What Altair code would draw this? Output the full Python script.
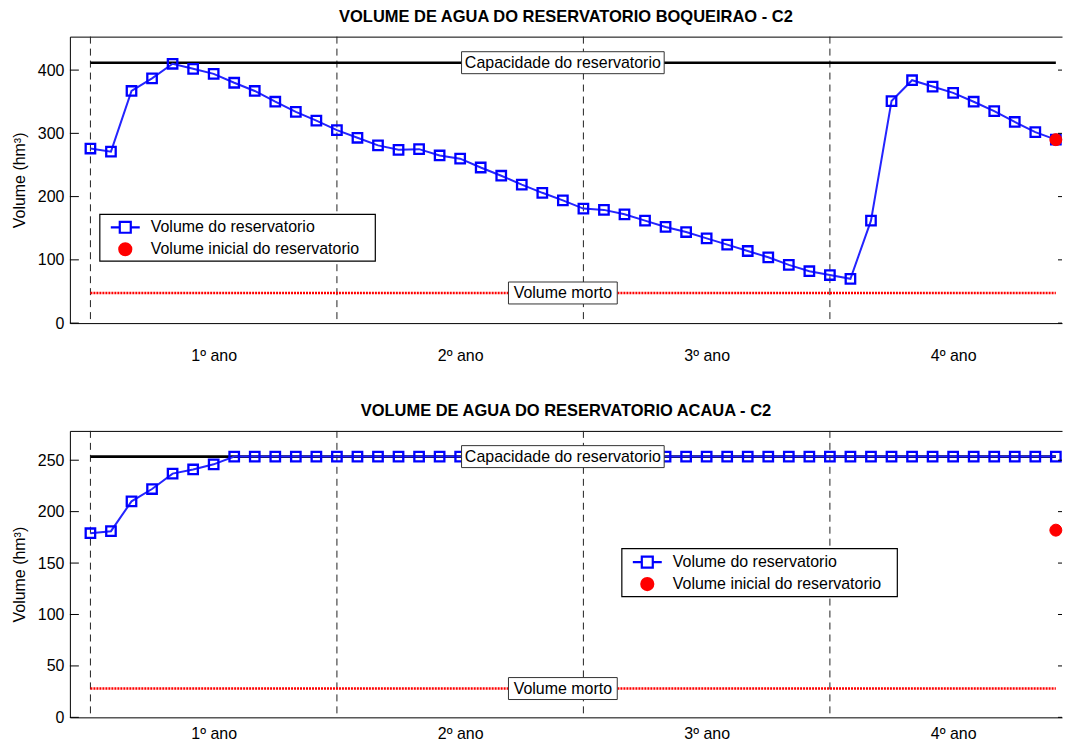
import altair as alt
import pandas as pd

# ---------------- data ----------------
months = list(range(48))
year_start = [0, 12, 24, 36]
year_mid = [6, 18, 30, 42]
year_labels = ["1º ano", "2º ano", "3º ano", "4º ano"]

boq_volume = [276, 271, 367, 387, 410, 402, 394, 380, 367, 350, 334, 320,
              305, 293, 281, 274, 275, 265, 260, 246, 233, 219, 206, 194,
              181, 179, 172, 162, 152, 144, 134, 124, 114, 104, 92, 82,
              76, 70, 162, 351, 384, 374, 364, 350, 335, 318, 302, 290]
boq_cap = 411.7
boq_dead = 47.6
boq_init = 290
boq_ymax = 452.9
boq_yticks = [0, 100, 200, 300, 400]

aca_volume = [179, 181, 210, 222, 237, 241, 246, 253.5, 253.5, 253.5, 253.5, 253.5,
              253.5, 253.5, 253.5, 253.5, 253.5, 253.5, 253.5, 253.5, 253.5, 253.5, 253.5, 253.5,
              253.5, 253.5, 253.5, 253.5, 253.5, 253.5, 253.5, 253.5, 253.5, 253.5, 253.5, 253.5,
              253.5, 253.5, 253.5, 253.5, 253.5, 253.5, 253.5, 253.5, 253.5, 253.5, 253.5, 253.5]
aca_cap = 253.5
aca_dead = 28
aca_init = 182
aca_ymax = 278.5
aca_yticks = [0, 50, 100, 150, 200, 250]

label_pos = [23]
cap_text = ["Capacidade do reservatorio"]
dead_text = ["Volume morto"]
L1 = "Volume do reservatorio"
L2 = "Volume inicial do reservatorio"

# ---------------- style ----------------
FONT = "Liberation Sans"
FS = 16
W = 994
H = 287
XMAX = 47.3
BLUE = "#0000ff"
SYM = 400  # legend/dot symbol size -> unit = 10 px
SHAPE_L1 = "M-1.45,0H-0.55M0.55,0H1.45M-0.55,-0.55H0.55V0.55H-0.55Z"
SHAPE_L2 = "M-0.6,0A0.6,0.6,0,1,0,0.6,0A0.6,0.6,0,1,0,-0.6,0Z"
CAP_BOX = "M-1,-0.1084H1V0.1084H-1Z"
DEAD_BOX = "M-1,-0.2018H1V0.2018H-1Z"

label_expr = " : ".join(
    f"datum.value == {m} ? '{t}'" for m, t in zip(year_mid[:-1], year_labels[:-1])
) + f" : '{year_labels[-1]}'"


def panel(title, vol, cap, dead, init, ymax, yticks, frame, legend_xy, label_pad):
    df = pd.DataFrame({"mes": months, "vol": vol})
    xs = alt.Scale(domain=[-1, XMAX], nice=False, zero=False)
    ys = alt.Scale(domain=[0, ymax], nice=False, zero=True)
    yaxis = alt.Axis(values=yticks, ticks=False, grid=False, labelPadding=6,
                     labelFontSize=FS, title="Volume (hm³)", titleFontSize=FS,
                     titleFontWeight="normal", titlePadding=10)
    xbottom = alt.Axis(orient="bottom", values=year_mid, labelExpr=label_expr,
                       ticks=False, grid=False, title=None, labelPadding=label_pad,
                       labelFontSize=FS)
    xtop = alt.Axis(orient="top", labels=False, ticks=False, grid=False, title=None)

    vlines = alt.Chart(pd.DataFrame({"m": year_start})).mark_rule(
        strokeDash=[7, 5], color="#222222", strokeWidth=1
    ).encode(x=alt.X("m:Q", scale=xs, axis=xtop))

    # legend frame (white box behind the legend entries)
    legbox = alt.Chart(pd.DataFrame({"k": [0]})).mark_rect(
        fill="white", stroke="black", strokeWidth=1.2
    ).encode(x=alt.value(frame[0]), x2=alt.value(frame[1]),
             y=alt.value(frame[2]), y2=alt.value(frame[3]))

    ref = pd.DataFrame({"x0": [months[0]], "x1": [months[-1]], "cap": [cap], "dead": [dead]})
    cap_line = alt.Chart(ref).mark_rule(color="black", strokeWidth=2.6).encode(
        x=alt.X("x0:Q", scale=xs, axis=None), x2="x1:Q",
        y=alt.Y("cap:Q", scale=ys, axis=yaxis))
    dead_line = alt.Chart(ref).mark_rule(color="#ff0000", strokeWidth=2.5, strokeDash=[2, 1]).encode(
        x=alt.X("x0:Q", scale=xs, axis=None), x2="x1:Q",
        y=alt.Y("dead:Q", scale=ys, axis=yaxis))

    line = alt.Chart(df).mark_line(color="#2424ff", strokeWidth=2).encode(
        x=alt.X("mes:Q", scale=xs, axis=xbottom),
        y=alt.Y("vol:Q", scale=ys, axis=yaxis))
    squares = alt.Chart(df).mark_point(shape="square", filled=False, color=BLUE,
                                       strokeWidth=2.3, size=90, opacity=1).encode(
        x=alt.X("mes:Q", scale=xs, axis=None),
        y=alt.Y("vol:Q", scale=ys, axis=yaxis))

    leg = alt.Legend(title=None, orient="none", legendX=legend_xy[0], legendY=legend_xy[1],
                     padding=0,
                     labelFontSize=FS, labelFont=FONT, labelColor="black", labelLimit=400,
                     symbolSize=SYM, symbolStrokeWidth=2.2, symbolOpacity=1,
                     labelOffset=14, rowPadding=-2)
    dom = [L1, L2]
    init_df = pd.DataFrame({"mes": [months[-1]], "vol": [init], "serie": [L2]})
    dot = alt.Chart(init_df).mark_point(filled=True, size=SYM, opacity=1, strokeWidth=1).encode(
        x=alt.X("mes:Q", scale=xs, axis=None),
        y=alt.Y("vol:Q", scale=ys, axis=yaxis),
        shape=alt.Shape("serie:N", scale=alt.Scale(domain=dom, range=[SHAPE_L1, SHAPE_L2]), legend=leg),
        fill=alt.Fill("serie:N", scale=alt.Scale(domain=dom, range=["white", "red"]), legend=leg),
        stroke=alt.Stroke("serie:N", scale=alt.Scale(domain=dom, range=[BLUE, "red"]), legend=leg),
    )

    lab = pd.DataFrame({"mes": label_pos * 2, "y": [cap, dead],
                        "t": cap_text + dead_text})
    cap_box = alt.Chart(lab.iloc[[0]]).mark_point(
        shape=CAP_BOX, size=203 ** 2, filled=True, fill="white", stroke="#333333",
        strokeWidth=1, opacity=1).encode(
        x=alt.X("mes:Q", scale=xs, axis=None), y=alt.Y("y:Q", scale=ys, axis=yaxis))
    dead_box = alt.Chart(lab.iloc[[1]]).mark_point(
        shape=DEAD_BOX, size=109 ** 2, filled=True, fill="white", stroke="#333333",
        strokeWidth=1, opacity=1).encode(
        x=alt.X("mes:Q", scale=xs, axis=None), y=alt.Y("y:Q", scale=ys, axis=yaxis))
    texts = alt.Chart(lab).mark_text(font=FONT, fontSize=FS, color="black",
                                     align="center", baseline="middle").encode(
        x=alt.X("mes:Q", scale=xs, axis=None), y=alt.Y("y:Q", scale=ys, axis=yaxis),
        text="t:N")

    tk = pd.DataFrame({"t": yticks})
    lticks = alt.Chart(tk).mark_rule(color="black", strokeWidth=1).encode(
        y=alt.Y("t:Q", scale=ys, axis=yaxis), x=alt.value(0), x2=alt.value(9))
    rticks = alt.Chart(tk).mark_rule(color="black", strokeWidth=1).encode(
        y=alt.Y("t:Q", scale=ys, axis=yaxis), x=alt.value(W - 4), x2=alt.value(W))

    return alt.layer(
        vlines, legbox, cap_line, dead_line, line, squares, dot, cap_box, dead_box, texts,
        lticks, rticks
    ).resolve_axis(x="independent").properties(
        width=W, height=H,
        title=alt.TitleParams(title, font=FONT, fontSize=16.5, fontWeight="bold",
                              anchor="middle", color="black", offset=11))


top = panel("VOLUME DE AGUA DO RESERVATORIO BOQUEIRAO - C2", boq_volume, boq_cap, boq_dead,
            boq_init, boq_ymax, boq_yticks, (30, 306, 178, 225), (44, 179.5), 24)
bottom = panel("VOLUME DE AGUA DO RESERVATORIO ACAUA - C2", aca_volume, aca_cap, aca_dead,
               aca_init, aca_ymax, aca_yticks, (553, 829, 118, 166), (567, 120), 8)

chart = alt.vconcat(top, bottom, spacing=40).resolve_scale(
    shape="independent", fill="independent", stroke="independent"
).properties(
    padding={"left": 3, "top": 0, "right": 0, "bottom": 0}
).configure_view(stroke=None).configure_axis(
    labelFont=FONT, titleFont=FONT, labelColor="black", titleColor="black",
    domainColor="black", domainWidth=1
)

chart.save("out.html", embed_options={"renderer": "svg", "actions": False})
